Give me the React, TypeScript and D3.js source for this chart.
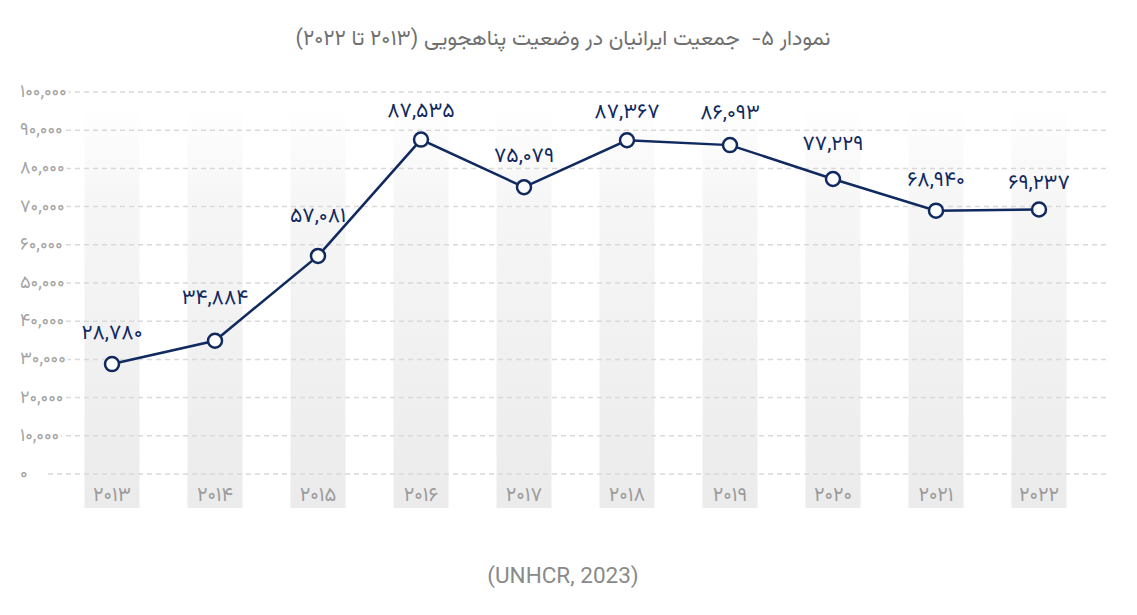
import React from "react";
import * as d3 from "d3";

const years = ["2013", "2014", "2015", "2016", "2017", "2018", "2019", "2020", "2021", "2022"];
const values = [28780, 34884, 57081, 87535, 75079, 87367, 86093, 77229, 68940, 69237];
const yTicks = [0, 10000, 20000, 30000, 40000, 50000, 60000, 70000, 80000, 90000, 100000];
const title = "نمودار ۵-  جمعیت ایرانیان در وضعیت پناهجویی (۲۰۱۳ تا ۲۰۲۲)";
const source = "(UNHCR, 2023)";

// vertical offset of each value label above its marker (layout only)
const labelLift = [25, 37, 34, 23, 25, 22, 26, 29, 25, 21];

const W = 1137;
const H = 615;
const FA = "۰۱۲۳۴۵۶۷۸۹";
const toFa = (s: string) => s.replace(/[0-9]/g, (d) => FA[+d]);
const fmt = d3.format(",");
const FONT = "Vazirmatn, 'DejaVu Sans', sans-serif";

export default function App() {
  const x = d3.scalePoint<string>().domain(years).range([112, 1039]);
  const y = d3.scaleLinear().domain([0, 100000]).range([474, 92]);
  const line = d3
    .line<number>()
    .x((_, i) => x(years[i]) as number)
    .y((d) => y(d));
  const bandW = 55;
  const navy = "#10295f";

  return (
    <svg width={W} height={H} style={{ position: "absolute", left: 0, top: 0, background: "#fff" }}>
      <defs>
        <linearGradient id="bandGrad" x1="0" y1="0" x2="0" y2="1">
          <stop offset="0%" stopColor="#f2f2f2" stopOpacity={0} />
          <stop offset="25%" stopColor="#f4f4f4" stopOpacity={0.85} />
          <stop offset="100%" stopColor="#ebebeb" stopOpacity={1} />
        </linearGradient>
      </defs>
      <text
        x={563}
        y={45}
        textAnchor="middle"
        direction="rtl"
        fontFamily={FONT}
        fontSize={21.5}
        fill="#707070"
        style={{ whiteSpace: "pre" }}
      >
        {title}
      </text>

      {years.map((yr) => (
        <rect
          key={"b" + yr}
          x={(x(yr) as number) - bandW / 2}
          y={108}
          width={bandW}
          height={400}
          fill="url(#bandGrad)"
        />
      ))}

      {yTicks.map((t) => (
        <line
          key={"g" + t}
          x1={48}
          x2={1110}
          y1={y(t)}
          y2={y(t)}
          stroke="#d9d9d9"
          strokeWidth={1.5}
          strokeDasharray="5,4"
        />
      ))}

      {yTicks.map((t) => (
        <text
          key={"yl" + t}
          x={20}
          y={y(t) + 5}
          fontFamily={FONT}
          fontSize={18}
          fill="#a3a3a3"
          stroke="#fff"
          strokeWidth={6}
          paintOrder="stroke"
          strokeLinejoin="round"
        >
          {toFa(fmt(t))}
        </text>
      ))}

      {years.map((yr) => (
        <text
          key={"xl" + yr}
          x={x(yr) as number}
          y={501}
          textAnchor="middle"
          fontFamily={FONT}
          fontSize={20}
          fill="#9b9b9b"
        >
          {toFa(yr)}
        </text>
      ))}

      <path d={line(values) || ""} fill="none" stroke={navy} strokeWidth={2.5} />
      {values.map((v, i) => (
        <circle
          key={"c" + i}
          cx={x(years[i]) as number}
          cy={y(v)}
          r={7}
          fill="#fff"
          stroke={navy}
          strokeWidth={2.5}
        />
      ))}
      {values.map((v, i) => (
        <text
          key={"dl" + i}
          x={x(years[i]) as number}
          y={y(v) - labelLift[i]}
          textAnchor="middle"
          fontFamily={FONT}
          fontSize={21}
          fill={navy}
        >
          {toFa(fmt(v))}
        </text>
      ))}

      <text
        x={563}
        y={583}
        textAnchor="middle"
        fontFamily="Roboto, sans-serif"
        fontSize={22.5}
        fill="#8a8a8a"
      >
        {source}
      </text>
    </svg>
  );
}
